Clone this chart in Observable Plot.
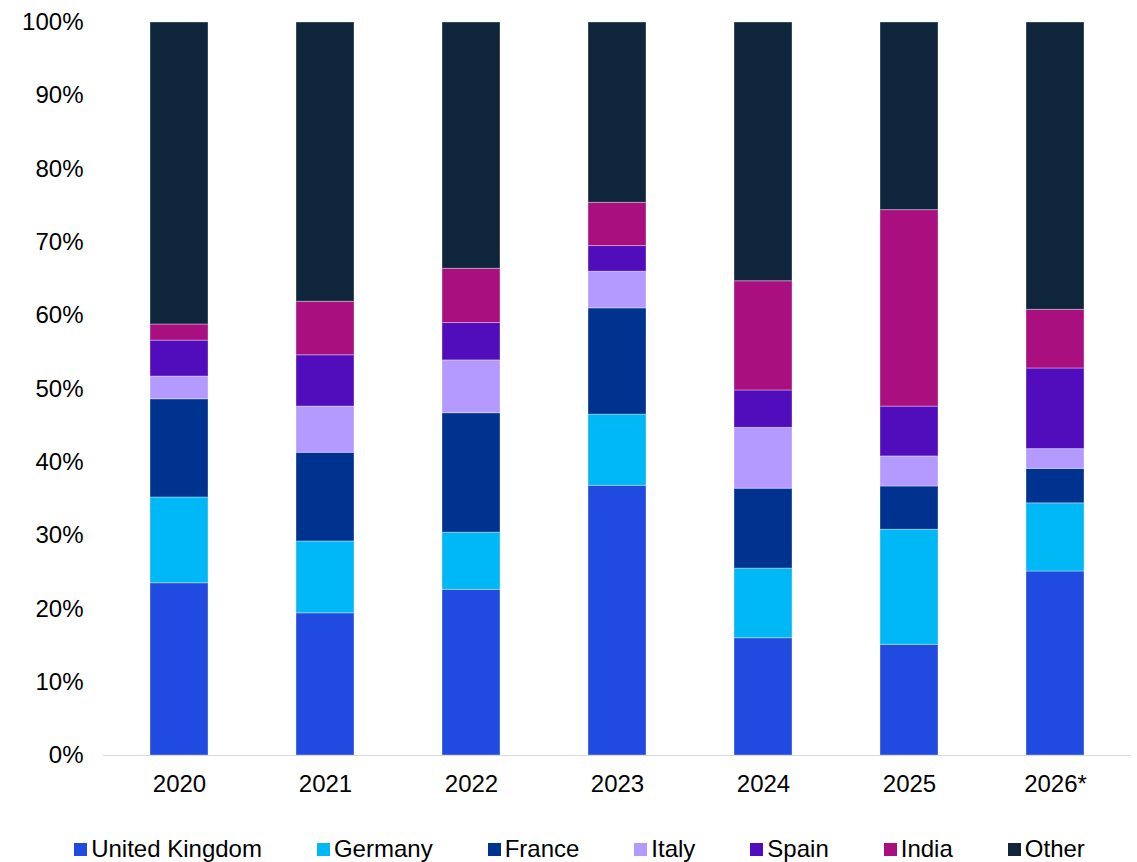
<!DOCTYPE html>
<html>
<head>
<meta charset="utf-8">
<script src="https://cdn.jsdelivr.net/npm/d3@7"></script>
<script src="https://cdn.jsdelivr.net/npm/@observablehq/plot@0.6"></script>
<style>
  body { margin: 0; background: #fff; font-family: "Liberation Sans", Arial, sans-serif; }
  #chart svg { display: block; }
  .legend { display: flex; justify-content: center; align-items: center; gap: 55px; margin-top: 30px; font-size: 24px; color: #000; padding-left: 22px; line-height: 28px; }
  .legend .item { display: flex; align-items: center; }
  .legend .sw { width: 13px; height: 13px; margin-right: 4px; display: inline-block; }
</style>
</head>
<body>
<div id="chart"></div>
<script>
const years = ["2020", "2021", "2022", "2023", "2024", "2025", "2026*"];
const seriesNames = ["United Kingdom", "Germany", "France", "Italy", "Spain", "India", "Other"];
const seriesColors = ["#204ae0", "#00b8f5", "#00338f", "#b49aff", "#510dbc", "#aa0f80", "#0e253c"];
const unitedKingdom = [23.5, 19.4, 22.6, 36.8, 16.0, 15.1, 25.1];
const germany       = [11.7,  9.8,  7.8,  9.7,  9.5, 15.7,  9.3];
const france        = [13.4, 12.1, 16.3, 14.5, 10.9,  5.9,  4.7];
const italy         = [ 3.1,  6.3,  7.2,  5.0,  8.3,  4.1,  2.7];
const spain         = [ 4.9,  7.0,  5.1,  3.5,  5.1,  6.8, 11.0];
const india         = [ 2.2,  7.3,  7.4,  5.9, 14.9, 26.8,  8.0];
const other         = [41.2, 38.1, 33.6, 24.6, 35.3, 25.6, 39.2];
const yTicks = [0, 0.1, 0.2, 0.3, 0.4, 0.5, 0.6, 0.7, 0.8, 0.9, 1];

const seriesValues = [unitedKingdom, germany, france, italy, spain, india, other];
const data = [];
seriesNames.forEach((s, i) => {
  years.forEach((y, j) => data.push({year: y, series: s, value: seriesValues[i][j]}));
});

const chart = Plot.plot({
  width: 1137,
  height: 805,
  marginTop: 22,
  marginBottom: 50,
  marginLeft: 103,
  marginRight: 6,
  style: {fontFamily: "'Liberation Sans', Arial, sans-serif", fontSize: "24px", color: "#000"},
  x: {domain: years, paddingInner: 0.6, paddingOuter: 0.3, label: null, tickSize: 0, tickPadding: 19},
  y: {domain: [0, 1], ticks: yTicks, tickFormat: d3.format(".0%"), label: null, tickSize: 0, tickPadding: 20},
  color: {domain: seriesNames, range: seriesColors},
  marks: [
    Plot.barY(data, Plot.stackY({
      x: "year", y: "value", fill: "series", order: seriesNames, offset: "normalize",
      stroke: "white", strokeOpacity: 0.35, strokeWidth: 1
    })),
    Plot.ruleY([0], {stroke: "#d9d9d9", strokeWidth: 1})
  ]
});
chart.querySelectorAll("g[aria-label='x-axis tick label'] text, g[aria-label='y-axis tick label'] text").forEach(t => t.setAttribute("fill", "#000"));
document.getElementById("chart").appendChild(chart);

const legend = document.createElement("div");
legend.className = "legend";
seriesNames.forEach((s, i) => {
  const item = document.createElement("div");
  item.className = "item";
  const sw = document.createElement("span");
  sw.className = "sw";
  sw.style.background = seriesColors[i];
  const label = document.createElement("span");
  label.textContent = s;
  item.appendChild(sw);
  item.appendChild(label);
  legend.appendChild(item);
});
document.body.appendChild(legend);
</script>
</body>
</html>
